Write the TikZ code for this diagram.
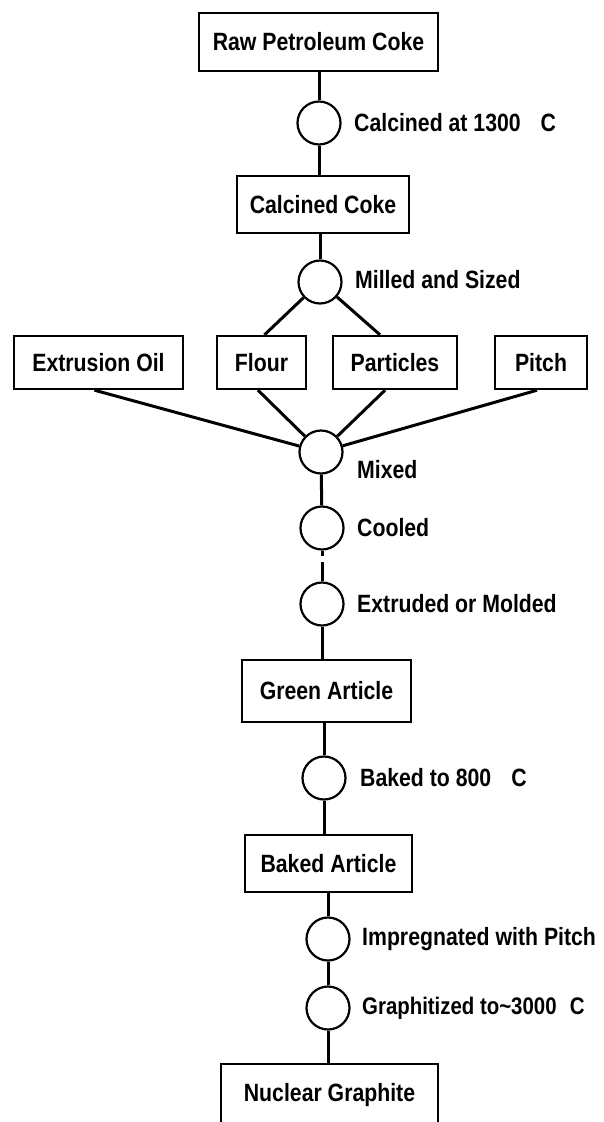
\documentclass[tikz,border=0pt]{standalone}
\usepackage{fontspec}
\setmainfont{Liberation Sans}[FakeStretch=0.85]
\begin{document}
\begin{tikzpicture}[x=1pt,y=-1pt,
  box/.style={draw, rectangle, line width=2.4pt, inner sep=0pt, font=\bfseries\fontsize{25}{26}\selectfont},
  proc/.style={draw, circle, line width=2.2pt, minimum size=43pt, inner sep=0pt},
  lbl/.style={anchor=west, inner sep=0pt, font=\bfseries\fontsize{25}{26}\selectfont},
  conn/.style={line width=3pt}]
\useasboundingbox (0,0) rectangle (604,1122);
\clip (0,0) rectangle (604,1122);
% boxes
\node[box, minimum width=239pt, minimum height=58pt] (raw) at (318.5,42) {Raw Petroleum Coke};
\node[box, minimum width=172pt, minimum height=57pt] (calc) at (323,204.5) {Calcined Coke};
\node[box, minimum width=169pt, minimum height=53pt] (ext) at (98.5,362.5) {Extrusion Oil};
\node[box, minimum width=89pt, minimum height=53pt] (flour) at (261.5,362.5) {Flour};
\node[box, minimum width=124pt, minimum height=53pt] (part) at (395,362.5) {Particles};
\node[box, minimum width=92pt, minimum height=53pt] (pitch) at (541,362.5) {Pitch};
\node[box, minimum width=169pt, minimum height=62pt] (green) at (326.5,691) {Green Article};
\node[box, minimum width=167pt, minimum height=57pt] (bakedart) at (328.5,863.5) {Baked Article};
\node[box, minimum width=217pt, minimum height=90pt] (nuc) at (329.5,1109) {};
\node[font=\bfseries\fontsize{25}{26}\selectfont, inner sep=0pt] (nuctext) at (329.5,1095) {Nuclear Graphite};
% process circles
\node[proc] (c1) at (319,123) {};
\node[proc] (milled) at (320,282) {};
\node[proc] (mixed) at (321,452) {};
\node[proc] (cooled) at (322,528) {};
\node[proc] (extr) at (322,604) {};
\node[proc] (baked) at (324,778) {};
\node[proc] (impreg) at (328,939) {};
\node[proc] (graph) at (328,1008) {};
% labels
\node[lbl] (l1) at (354,123) {Calcined at 1300\hspace{0.8em}C};
\node[lbl] (l2) at (355,280) {Milled and Sized};
\node[lbl] (l3) at (357,470) {Mixed};
\node[lbl] (l4) at (357,528) {Cooled};
\node[lbl] (l5) at (357,604) {Extruded or Molded};
\node[lbl] (l6) at (360,778) {Baked to 800\hspace{0.8em}C};
\node[lbl] (l7) at (362,939) {Impregnated with Pitch};
\node[lbl, font=\bfseries\fontsize{24}{26}\selectfont] (l8) at (362,1008) {Graphitized to\textasciitilde 3000\hspace{0.55em}C};
% connectors
\draw[conn] (raw.south -| c1) -- (c1);
\draw[conn] (c1) -- (c1 |- calc.north);
\draw[conn] (calc.south -| milled) -- (milled);
\draw[conn] (milled) -- ([xshift=3pt]flour.north);
\draw[conn] (milled) -- ([xshift=-15pt]part.north);
\draw[conn] ([xshift=-4pt]ext.south) -- (mixed);
\draw[conn] ([xshift=-3.5pt]flour.south) -- (mixed);
\draw[conn] ([xshift=-10pt]part.south) -- (mixed);
\draw[conn] ([xshift=-4pt]pitch.south) -- (mixed);
\draw[conn] (mixed) -- (cooled);
\coordinate (stub) at ([yshift=-5pt]cooled.south);
\draw[conn] (cooled.south) -- (stub);
\draw[conn] (extr.north) -- ++(0,-19);
\draw[conn] (extr) -- (extr |- green.north);
\draw[conn] (green.south -| baked) -- (baked);
\draw[conn] (baked) -- (baked |- bakedart.north);
\draw[conn] (bakedart.south -| impreg) -- (impreg);
\draw[conn] (impreg) -- (graph);
\draw[conn] (graph) -- (graph |- nuc.north);
\end{tikzpicture}
\end{document}
